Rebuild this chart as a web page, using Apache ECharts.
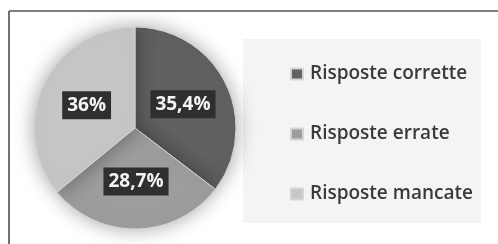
<!DOCTYPE html>
<html lang="it">
<head>
    <meta charset="UTF-8">
    <title>Risposte</title>
    <script src="https://cdn.jsdelivr.net/npm/echarts@6/dist/echarts.min.js"></script>
    <style>
        *{
            margin: 0;
            padding: 0;
        }
        html,body{
            width: 100%;
            height: 100%;
            background: #fff;
        }
        .main{
            width: 498px;
            height: 244px;
        }
    </style>
</head>
<body>
<div class="main"></div>
<script>
    // dati
    let categories = ['Risposte corrette', 'Risposte errate', 'Risposte mancate'];
    let values = [35.4, 28.7, 36];
    let labels = ['35,4%', '28,7%', '36%'];
    let colors = ['#616163', '#9d9d9f', '#c7c7c9'];

    let main = echarts.init(document.getElementsByClassName('main')[0]);

    let pieData = categories.map((name, i) => ({
        name,
        value: values[i],
        itemStyle: {color: colors[i]},
        label: {formatter: labels[i]}
    }));

    let option = {
        animation: false,
        textStyle: {fontFamily: 'Open Sans'},
        graphic: [
            {type: 'line', shape: {x1: 9, y1: 11, x2: 498, y2: 11}, style: {stroke: '#555', lineWidth: 1.5}},
            {type: 'line', shape: {x1: 9, y1: 11, x2: 9, y2: 244}, style: {stroke: '#444', lineWidth: 1.5}},
            {type: 'rect', z: -1, shape: {x: 243, y: 39, width: 238, height: 184}, style: {fill: '#f4f4f4'}}
        ],
        legend: {
            orient: 'vertical',
            left: 285,
            top: 56,
            itemGap: 34,
            itemWidth: 12,
            itemHeight: 11,
            icon: 'rect',
            data: categories,
            textStyle: {fontSize: 19, fontWeight: 600, color: '#3a3a3a', fontFamily: 'Open Sans', padding: [0, 0, 0, 2], lineHeight: 26}
        },
        series: [{
            type: 'pie',
            center: [135, 128],
            radius: [0, 101],
            startAngle: 90,
            clockwise: true,
            label: {
                show: true,
                position: 'inside',
                color: '#f4f4f4',
                fontSize: 19,
                fontWeight: 'bold',
                fontFamily: 'Open Sans',
                backgroundColor: '#2f2f31',
                padding: [5, 5, 4, 5]
            },
            labelLine: {show: false},
            itemStyle: {
                borderColor: '#d5d5d7',
                borderWidth: 1,
                shadowBlur: 20,
                shadowColor: 'rgba(0,0,0,0.35)'
            },
            data: pieData
        }]
    };
    main.setOption(option);
</script>
</body>
</html>
